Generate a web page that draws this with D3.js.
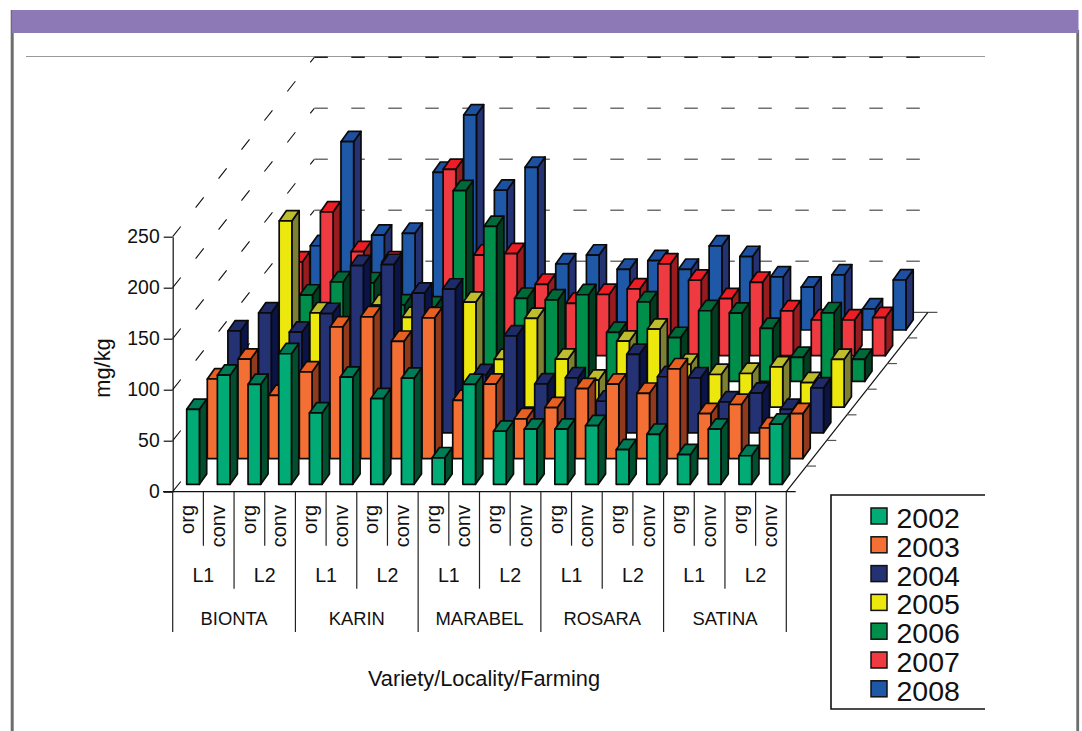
<!DOCTYPE html>
<html>
<head>
<meta charset="utf-8">
<script src="https://cdn.jsdelivr.net/npm/d3@7"></script>
<style>
html, body { margin: 0; padding: 0; background: #fff; }
svg { display: block; }
text { font-family: "Liberation Sans", Arial, sans-serif; fill: #111; }
</style>
</head>
<body>
<div id="chart"></div>
<script>
'use strict';

const varieties = ['BIONTA', 'KARIN', 'MARABEL', 'ROSARA', 'SATINA'];
const localities = ['L1', 'L2'];
const farming = ['org', 'conv'];
const years = [2002, 2003, 2004, 2005, 2006, 2007, 2008];
const valueTicks = [0, 50, 100, 150, 200, 250];

const v2002 = [73.5, 107, 98, 128, 70, 105, 84, 104, 26, 98, 52, 54, 54, 57.5, 34, 49, 29, 54, 28, 59];
const v2003 = [78, 97.5, 62, 85, 129, 139, 115, 138, 57, 73, 39, 50, 68.6, 73, 64, 88, 44, 53, 30, 44];
const v2004 = [100, 117.6, 98.7, 117, 164, 165, 137, 141, 57, 95, 48, 54, 31, 77, 55, 54, 30.4, 39, 23, 44];
const v2005 = [40, 182.6, 92.5, 60, 100, 88, 70, 103, 46.8, 87, 47, 26.5, 64.7, 76.5, 42, 32, 33, 39.5, 24, 46.8];
const v2006 = [55, 84.7, 97.5, 96.7, 75, 73, 187, 152, 81.5, 80, 85, 48, 78, 43, 69.3, 67, 52, 23.6, 67.3, 21.6];
const v2007 = [92, 141, 102, 92, 50, 182.7, 98.7, 100, 70, 51.4, 60, 65.4, 90, 74, 56, 72, 44, 35, 35, 37.3];
const v2008 = [82.6, 184.6, 93, 94.8, 154.6, 210.8, 137, 159.5, 64.7, 73.5, 59.5, 68, 59.5, 82.4, 72, 52, 42, 54, 20.6, 49];
const series = [v2002, v2003, v2004, v2005, v2006, v2007, v2008];

// front, top, side
const colors = [
	['#00ab76', '#007b55', '#00502f'],
	['#f36f33', '#e85f22', '#8f3a1c'],
	['#243172', '#1f2b66', '#0b1446'],
	['#ece80e', '#bdbd2e', '#7d8030'],
	['#008f4a', '#00693a', '#033d20'],
	['#ef3a42', '#ee1c25', '#961c20'],
	['#1f58a6', '#1e50a2', '#243272']
];

const width = 1082, height = 731;
const x0 = 172.7, x1 = 786.3, yBase = 491.7;
const floorDx = 141.6, floorDy = 179.4;
const barW = 12.7, barDx = 7.3, barDy = 10.3;

const svg = d3.select('#chart').append('svg').attr('width', width).attr('height', height);

// page frame
svg.append('rect').attr('x', 10.7).attr('y', 10).attr('width', 3).attr('height', height - 10).attr('fill', '#6a6e6c');
svg.append('rect').attr('x', 1076.3).attr('y', 30).attr('width', 2.8).attr('height', height - 30).attr('fill', '#6a6e6c');
svg.append('rect').attr('x', 12).attr('y', 10).attr('width', 1066.5).attr('height', 23).attr('fill', '#8c79b5');
svg.append('line').attr('x1', 26).attr('x2', 985).attr('y1', 56.5).attr('y2', 56.5).attr('stroke', '#999').attr('stroke-width', 1);

const cats = d3.range(20);
const x = d3.scaleBand().domain(cats).range([x0, x1]);
const y = d3.scaleLinear().domain([0, 250]).range([yBase, 236.7]);
const depthX = d3.scaleLinear().domain([0, 7]).range([0, floorDx]);
const depthY = d3.scaleLinear().domain([0, 7]).range([0, floorDy]);

// walls
const grid = svg.append('g');
valueTicks.forEach(function(t, i) {
	grid.append('line')
		.attr('x1', x0).attr('y1', y(t))
		.attr('x2', x0 + floorDx).attr('y2', y(t) - floorDy)
		.attr('stroke', '#111').attr('stroke-width', 1.1)
		.attr('stroke-dasharray', '13 24');
	if (i > 0) {
		grid.append('line')
			.attr('x1', x0 + floorDx).attr('y1', y(t) - floorDy)
			.attr('x2', x1 + floorDx).attr('y2', y(t) - floorDy)
			.attr('stroke', i === 5 ? '#222' : '#707070').attr('stroke-width', 1.5)
			.attr('stroke-dasharray', '13.5 23.5');
	}
});

// floor
const floor = svg.append('g').attr('stroke', '#111').attr('stroke-width', 1.2);
floor.append('line').attr('x1', x0 + floorDx).attr('y1', yBase - floorDy).attr('x2', x1 + floorDx + 9.5).attr('y2', yBase - floorDy).attr('stroke', '#555');
floor.append('line').attr('x1', x1).attr('y1', yBase).attr('x2', x1 + floorDx).attr('y2', yBase - floorDy);
d3.range(1, 7).forEach(function(r) {
	floor.append('line')
		.attr('x1', x1 + depthX(r)).attr('y1', yBase - depthY(r))
		.attr('x2', x1 + depthX(r) + 9.5).attr('y2', yBase - depthY(r))
		.attr('stroke', '#555');
});

// value axis
const axis = d3.axisLeft(y).tickValues(valueTicks).tickSize(9).tickPadding(4).tickSizeOuter(0);
const ag = svg.append('g').attr('transform', 'translate(' + x0 + ',0)').call(axis);
ag.selectAll('path,line').attr('stroke', '#111').attr('stroke-width', 1.2);
ag.selectAll('text').attr('font-size', 19.4).attr('fill', '#111').style('font-family', '"Liberation Sans", Arial, sans-serif');

// bars, back row first
const barStart = 14;
const rowX = d3.scaleLinear().domain([0, 6]).range([0, 123.6]);
const rowBase = d3.scaleLinear().domain([0, 6]).range([484.3, 330]);
const barH = d3.scaleLinear().domain([0, 250]).range([0, yBase - 236.7]);
const bars = svg.append('g').attr('stroke', '#0a0a0a').attr('stroke-width', 1.7).attr('stroke-linejoin', 'round');
d3.range(6, -1, -1).forEach(function(r) {
	series[r].forEach(function(v, c) {
		const bx = x(c) + barStart + rowX(r);
		const by = rowBase(r);
		const top = by - barH(v);
		const g = bars.append('g');
		g.append('path')
			.attr('fill', colors[r][2])
			.attr('d', d3.line()([[bx + barW, top], [bx + barW + barDx, top - barDy], [bx + barW + barDx, by - barDy], [bx + barW, by]]) + 'Z');
		g.append('path')
			.attr('fill', colors[r][1])
			.attr('d', d3.line()([[bx, top], [bx + barDx, top - barDy], [bx + barW + barDx, top - barDy], [bx + barW, top]]) + 'Z');
		g.append('rect')
			.attr('x', bx).attr('y', top)
			.attr('width', barW).attr('height', barH(v))
			.attr('fill', colors[r][0]);
	});
});

// category axis
const cg = svg.append('g');
const sepColor = '#222';
cg.append('line').attr('x1', 163).attr('x2', 795.7).attr('y1', yBase).attr('y2', yBase).attr('stroke', '#111').attr('stroke-width', 1.2);
d3.range(21).forEach(function(i) {
	let end = 545.7;
	if (i % 4 === 0) end = 632;
	else if (i % 2 === 0) end = 588.7;
	const xx = i < 20 ? x(i) : x1;
	cg.append('line').attr('x1', xx).attr('x2', xx).attr('y1', yBase).attr('y2', end).attr('stroke', sepColor).attr('stroke-width', 1.2);
});
cats.forEach(function(c) {
	cg.append('text')
		.attr('transform', 'translate(' + (x(c) + x.bandwidth() / 2 + 6.3) + ',505) rotate(-90)')
		.attr('text-anchor', 'end')
		.attr('font-size', 20)
		.text(farming[c % 2]);
});
d3.range(10).forEach(function(i) {
	cg.append('text')
		.attr('x', x(i * 2) + x.bandwidth())
		.attr('y', 581.7)
		.attr('text-anchor', 'middle')
		.attr('font-size', 19.6)
		.text(localities[i % 2]);
});
varieties.forEach(function(name, i) {
	cg.append('text')
		.attr('x', x(i * 4) + 2 * x.bandwidth())
		.attr('y', 625)
		.attr('text-anchor', 'middle')
		.attr('font-size', 18.4)
		.text(name);
});

svg.append('text').attr('x', 484).attr('y', 686).attr('text-anchor', 'middle').attr('font-size', 21.8).text('Variety/Locality/Farming');
svg.append('text').attr('transform', 'translate(110,368) rotate(-90)').attr('text-anchor', 'middle').attr('font-size', 21.8).text('mg/kg');

// legend, open on the right
svg.append('path')
	.attr('d', 'M985,495H831V709H985')
	.attr('fill', '#fff').attr('stroke', '#111').attr('stroke-width', 1.6);
years.forEach(function(yr, i) {
	svg.append('rect')
		.attr('x', 871).attr('y', 508 + i * 28.8)
		.attr('width', 16).attr('height', 16)
		.attr('fill', colors[i][0]).attr('stroke', '#111').attr('stroke-width', 1.5);
	svg.append('text')
		.attr('x', 896.5).attr('y', 528 + i * 28.8)
		.attr('font-size', 28.5)
		.text(yr);
});
</script>
</body>
</html>
